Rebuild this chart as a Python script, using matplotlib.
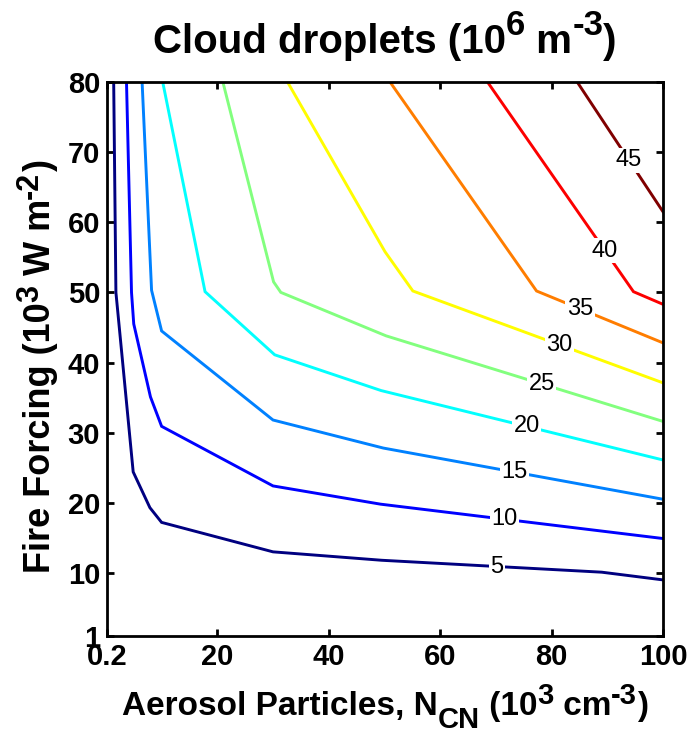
import matplotlib
matplotlib.use('Agg')
import matplotlib.pyplot as plt
from matplotlib.colors import LinearSegmentedColormap
import numpy as np

# contour levels (10^6 m^-3) and their polylines
levels = [5, 10, 15, 20, 25, 30, 35, 40, 45]

x5 = [1.4, 1.8, 4.9, 7.9, 10, 30, 49.5, 89, 100]
y5 = [80, 50, 24.4, 19.3, 17.2, 13.0, 11.8, 10.1, 9.0]
x10 = [3.7, 4.6, 5.0, 8.0, 10, 30, 49.3, 100]
y10 = [80, 50, 45.5, 35.1, 30.9, 22.4, 19.8, 14.9]
x15 = [6.5, 8.2, 10, 30, 49.8, 100]
y15 = [80, 50.3, 44.5, 31.8, 27.8, 20.5]
x20 = [10.2, 17.8, 30.3, 49.4, 100]
y20 = [80, 50.1, 41.1, 36.0, 26.1]
x25 = [21.0, 30.1, 31.4, 50.3, 100]
y25 = [80, 51.5, 50.0, 43.8, 31.6]
x30 = [32.6, 50.1, 55.1, 100]
y30 = [80, 55.8, 50.2, 37.1]
x35 = [51.0, 77.3, 100]
y35 = [80, 50.2, 42.8]
x40 = [68.5, 94.7, 100]
y40 = [80, 50.1, 48.3]
x45 = [84.6, 100]
y45 = [80, 61.5]

xs = [x5, x10, x15, x20, x25, x30, x35, x40, x45]
ys = [y5, y10, y15, y20, y25, y30, y35, y40, y45]

xticks = [0.2, 20, 40, 60, 80, 100]
xticklabels = ['0.2', '20', '40', '60', '80', '100']
yticks = [1, 10, 20, 30, 40, 50, 60, 70, 80]

plt.rcParams['font.family'] = 'Liberation Sans'

W, H = 695, 742
fig = plt.figure(figsize=(W / 100, H / 100), dpi=100)
ax = fig.add_axes([107 / W, 1 - 636 / H, 556 / W, 554 / H])
renderer = fig.canvas.get_renderer()


def rich(x0, y0, pieces, vertical=False):
    """MATLAB-style label: pieces of (text, size, rise_px), centred on x0/y0 (pixels)."""
    texts = []
    pos = 0.0
    for s, size, rise in pieces:
        if vertical:
            t = fig.text((x0 - rise) / W, (H - y0 + pos) / H, s, rotation=90,
                         rotation_mode='anchor', ha='left', va='baseline',
                         fontsize=size, fontweight='bold')
            pos += t.get_window_extent(renderer).height
        else:
            t = fig.text((x0 + pos) / W, (H - y0 + rise) / H, s,
                         ha='left', va='baseline', fontsize=size, fontweight='bold')
            pos += t.get_window_extent(renderer).width
        texts.append(t)
    for t in texts:
        px, py = t.get_position()
        if vertical:
            t.set_position((px, py - pos / 2 / H))
        else:
            t.set_position((px - pos / 2 / W, py))


# MATLAB's jet
jet = LinearSegmentedColormap.from_list(
    'mjet', [(0, (0, 0, 0.5)), (0.125, (0, 0, 1)), (0.375, (0, 1, 1)),
             (0.625, (1, 1, 0)), (0.875, (1, 0, 0)), (1, (0.5, 0, 0))])
norm = plt.Normalize(min(levels), max(levels))

# where the inline labels sit (x position along each line)
label_x = [70.2, 71.6, 73.4, 75.5, 78.2, 81.4, 85.1, 89.6, 93.9]

for lev, lx, x, y in zip(levels, label_x, xs, ys):
    c = jet(norm(lev))
    ax.plot(x, y, color=c, lw=2.1, solid_joinstyle='miter', zorder=2)
    ly = np.interp(lx, x, y)
    ax.text(lx, ly, str(lev), ha='center', va='center', fontsize=17,
            color='black', zorder=3,
            bbox=dict(fc='white', ec='none', pad=1.0))

ax.set_xlim(0.2, 100)
ax.set_ylim(1, 80)
ax.set_xticks(xticks)
ax.set_xticklabels(xticklabels)
ax.set_yticks(yticks)
ax.tick_params(direction='in', length=5, width=2, top=True, right=True,
               labelsize=21, pad=5)
for lab in ax.get_xticklabels() + ax.get_yticklabels():
    lab.set_fontweight('bold')
for s in ax.spines.values():
    s.set_linewidth(2)

# title, x label and y label with full-size MATLAB-like super/subscripts
rich(385, 53, [('Cloud droplets (10', 29, 0), ('6', 25, 18),
               (' m', 29, 0), ('-3', 25, 18), (')', 29, 0)])
rich(385, 715, [('Aerosol Particles, N', 24, 0), ('CN', 21, -13),
                (' (10', 24, 0), ('3', 21, 11), (' cm', 24, 0),
                ('-3', 21, 11), (')', 24, 0)])
rich(50, 366, [('Fire Forcing (10', 26, 0), ('3', 22, 12),
               (' W m', 26, 0), ('-2', 22, 12), (')', 26, 0)], vertical=True)

fig.savefig('out.png', dpi=100)
